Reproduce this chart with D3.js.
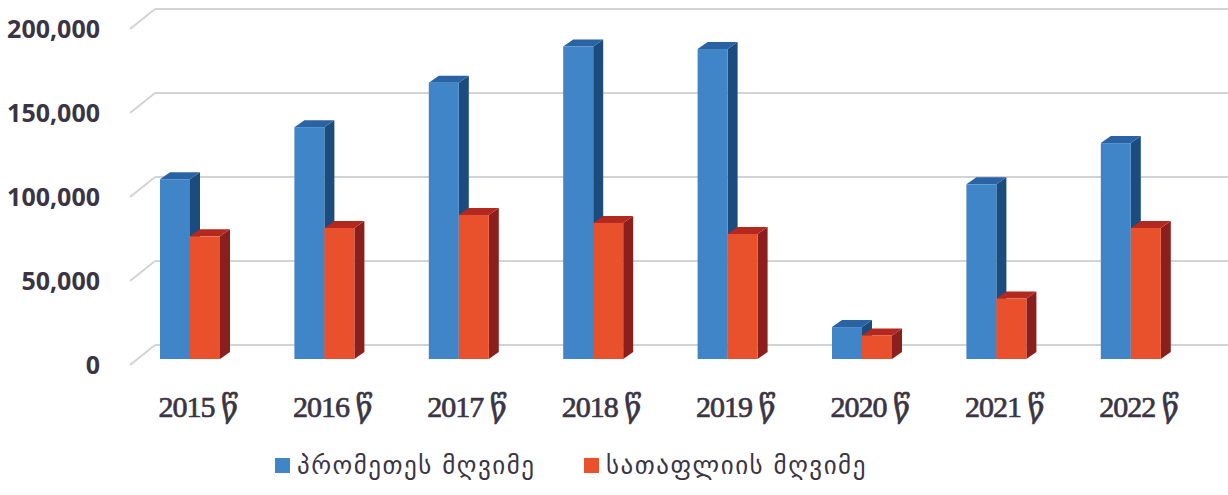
<!DOCTYPE html>
<html>
<head>
<meta charset="utf-8">
<script src="https://cdn.jsdelivr.net/npm/d3@7"></script>
<style>
  body { margin: 0; background: #fff; }
  svg { display: block; }
</style>
</head>
<body>
<script>
// chart data
var years = ["2015 წ", "2016 წ", "2017 წ", "2018 წ", "2019 წ", "2020 წ", "2021 წ", "2022 წ"];
var seriesNames = ["პრომეთეს მღვიმე", "სათაფლიის მღვიმე"];
var prometheus = [107000, 138000, 164500, 186000, 184500, 19000, 104000, 128500];
var sataplia = [73000, 78000, 85700, 81000, 74400, 14000, 36000, 78000];
var yTicks = [0, 50000, 100000, 150000, 200000];

var w = 1228, h = 495;

// colours: front, top, side
var faces = [
  {front: "#3f85c7", top: "#2a63a3", side: "#1c4b7d"},
  {front: "#e8512b", top: "#b3281f", side: "#8b1f1e"}
];

// depth of the bars and the floor
var dx = 10, dy = 7,
    wallDx = 25, wallDy = 20;

var svg = d3.select("body").append("svg")
  .attr("width", w)
  .attr("height", h);

// back wall scale, bars sit 14px lower in front
var yBack = d3.scaleLinear().domain([0, 200000]).range([345, 9]);
var frontDrop = 14;

var step = 134.4, bw = 60;
var r0 = 160 - (1 - bw / step) * step / 2;
var x = d3.scaleBand()
  .domain(years)
  .range([r0, r0 + step * years.length])
  .paddingInner(1 - bw / step)
  .paddingOuter((1 - bw / step) / 2);

var xs = d3.scaleBand().domain(seriesNames).range([0, x.bandwidth()]);

// grid on the back wall, with the diagonal to the front
var grid = svg.append("g");
yTicks.forEach(function(t){
  var y = yBack(t);
  grid.append("line")
    .attr("x1", 155).attr("x2", w)
    .attr("y1", y).attr("y2", y)
    .attr("stroke", "#d3d3d7").attr("stroke-width", 2);
  grid.append("line")
    .attr("x1", 155 - wallDx).attr("y1", y + wallDy)
    .attr("x2", 155).attr("y2", y)
    .attr("stroke", "#d3d3d7").attr("stroke-width", 2);
});

// y axis labels
svg.append("g").selectAll("text")
  .data(yTicks)
  .enter().append("text")
    .attr("x", 100)
    .attr("y", function(d){ return yBack(d) + wallDy; })
    .attr("dy", "0.36em")
    .attr("text-anchor", "end")
    .style("font-family", "'Open Sans', 'Noto Sans', sans-serif")
    .style("font-weight", "bold")
    .style("font-size", "25px")
    .style("fill", "#3b3444")
    .text(function(d){ return d3.format(",")(d); });

// bars as little boxes: front, top, side
var rows = [];
years.forEach(function(yr, i){
  rows.push({year: yr, s: 0, v: prometheus[i]});
  rows.push({year: yr, s: 1, v: sataplia[i]});
});

var bars = svg.append("g").selectAll("g")
  .data(rows)
  .enter().append("g");

function geo(d){
  var x0 = x(d.year) + xs(seriesNames[d.s]),
      x1 = x0 + xs.bandwidth(),
      yb = yBack(0) + frontDrop,
      yt = yBack(d.v) + frontDrop;
  return {x0: x0, x1: x1, yb: yb, yt: yt};
}

bars.append("path")
  .attr("d", function(d){
    var g = geo(d);
    return "M" + g.x1 + "," + g.yt + "L" + (g.x1 + dx) + "," + (g.yt - dy) +
      "L" + (g.x1 + dx) + "," + (g.yb - dy) + "L" + g.x1 + "," + g.yb + "Z";
  })
  .attr("fill", function(d){ return faces[d.s].side; });

bars.append("path")
  .attr("d", function(d){
    var g = geo(d);
    return "M" + g.x0 + "," + g.yt + "L" + (g.x0 + dx) + "," + (g.yt - dy) +
      "L" + (g.x1 + dx) + "," + (g.yt - dy) + "L" + g.x1 + "," + g.yt + "Z";
  })
  .attr("fill", function(d){ return faces[d.s].top; });

bars.append("rect")
  .attr("x", function(d){ return geo(d).x0; })
  .attr("y", function(d){ return geo(d).yt; })
  .attr("width", xs.bandwidth())
  .attr("height", function(d){ var g = geo(d); return g.yb - g.yt; })
  .attr("fill", function(d){ return faces[d.s].front; });

// category labels
svg.append("g").selectAll("text")
  .data(years)
  .enter().append("text")
    .attr("x", function(d){ return x(d) + x.bandwidth() / 2 + 8; })
    .attr("y", 417)
    .attr("text-anchor", "middle")
    .style("font-family", "'Liberation Serif', 'DejaVu Serif', serif")
    .style("font-size", "30px")
    .style("letter-spacing", "-1px")
    .style("fill", "#3a3444")
    .style("stroke", "#3a3444")
    .style("stroke-width", "0.7px")
    .text(function(d){ return d; });

// legend
var legendX = [275, 584];
var legend = svg.append("g").selectAll("g")
  .data(seriesNames)
  .enter().append("g")
    .attr("transform", function(d, i){ return "translate(" + legendX[i] + ",458)"; });

legend.append("rect")
  .attr("width", 15).attr("height", 15)
  .attr("fill", function(d, i){ return faces[i].front; });

legend.append("text")
  .attr("x", 22).attr("y", 16)
  .style("font-family", "'DejaVu Sans', sans-serif")
  .style("font-size", "25px")
  .style("letter-spacing", "1.5px")
  .style("fill", "#3b3444")
  .text(function(d){ return d; });
</script>
</body>
</html>
